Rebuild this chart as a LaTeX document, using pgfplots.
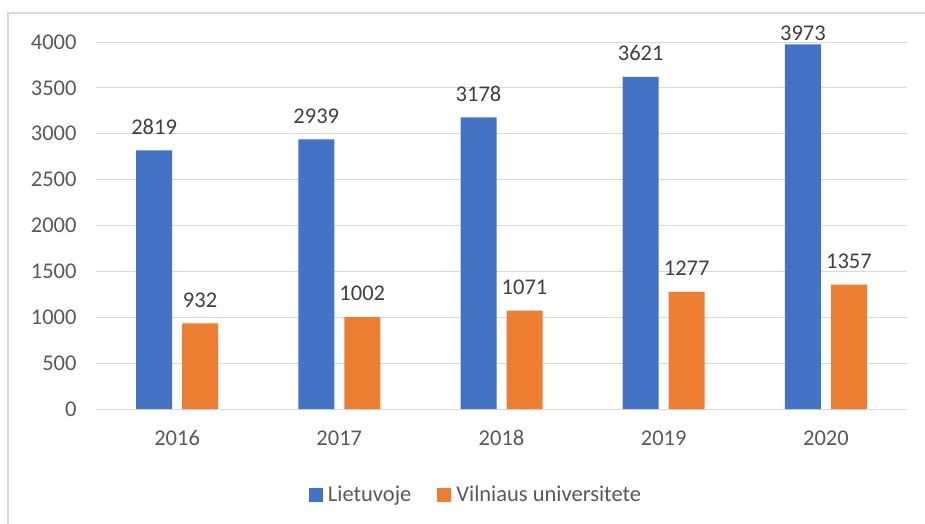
\documentclass[border=0pt]{standalone}
\usepackage{fontspec}
\setmainfont{Carlito}
\usepackage{pgfplots}
\pgfplotsset{compat=1.18}
\definecolor{lblue}{HTML}{4472C4}
\definecolor{lorange}{HTML}{ED7D31}
\definecolor{gridgray}{HTML}{D9D9D9}
\definecolor{txtgray}{HTML}{595959}
\definecolor{lblgray}{HTML}{404040}
\newcommand{\chartfont}{\fontsize{22.5bp}{27bp}\selectfont}

\begin{document}
\begin{tikzpicture}
\useasboundingbox (0,0) rectangle (925bp,-524bp);
\draw[gridgray, line width=1.5bp] (8bp,-524bp) -- (8bp,-13bp) -- (925bp,-13bp);
\begin{axis}[
    at={(96bp,-409bp)}, anchor=south west,
    scale only axis, width=811bp, height=367bp,
    ybar=10bp, bar width=36bp,
    xmin=-0.5, xmax=4.5, ymin=0, ymax=4000,
    xtick=data, xticklabels={2016,2017,2018,2019,2020},
    ytick={0,500,...,4000},
    ymajorgrids, grid style={gridgray, line width=1bp},
    axis x line*=bottom, axis y line*=left,
    x axis line style={gridgray, line width=1bp},
    y axis line style={draw=none},
    major tick length=0,
    tick label style={font=\chartfont, text=txtgray},
    /pgf/number format/assume math mode=true,
    /pgf/number format/1000 sep={},
    yticklabel style={xshift=-16bp},
    xticklabel style={yshift=-18bp},
    visualization depends on=rawy\as\rawy,
    nodes near coords,
    nodes near coords style={font=\chartfont, text=lblgray, inner sep=3bp,
      yshift={ifthenelse(\rawy>3800,1,13)}},
    legend style={at={(0.4686,-0.234)}, anchor=center, draw=none,
      legend columns=2, font=\chartfont, text=txtgray,
      /tikz/every even column/.append style={column sep=24bp}},
  ]
  \addplot[fill=lblue, draw=none,
    legend image code/.code={\fill[lblue] (0bp,-7bp) rectangle (14bp,7bp);}]
    coordinates {(0,2819) (1,2939) (2,3178) (3,3621) (4,3973)};
  \addplot[fill=lorange, draw=none,
    legend image code/.code={\fill[lorange] (0bp,-7bp) rectangle (14bp,7bp);}]
    coordinates {(0,932) (1,1002) (2,1071) (3,1277) (4,1357)};
  \legend{\hspace{3bp}Lietuvoje, \hspace{3bp}Vilniaus universitete}
\end{axis}
\end{tikzpicture}
\end{document}
